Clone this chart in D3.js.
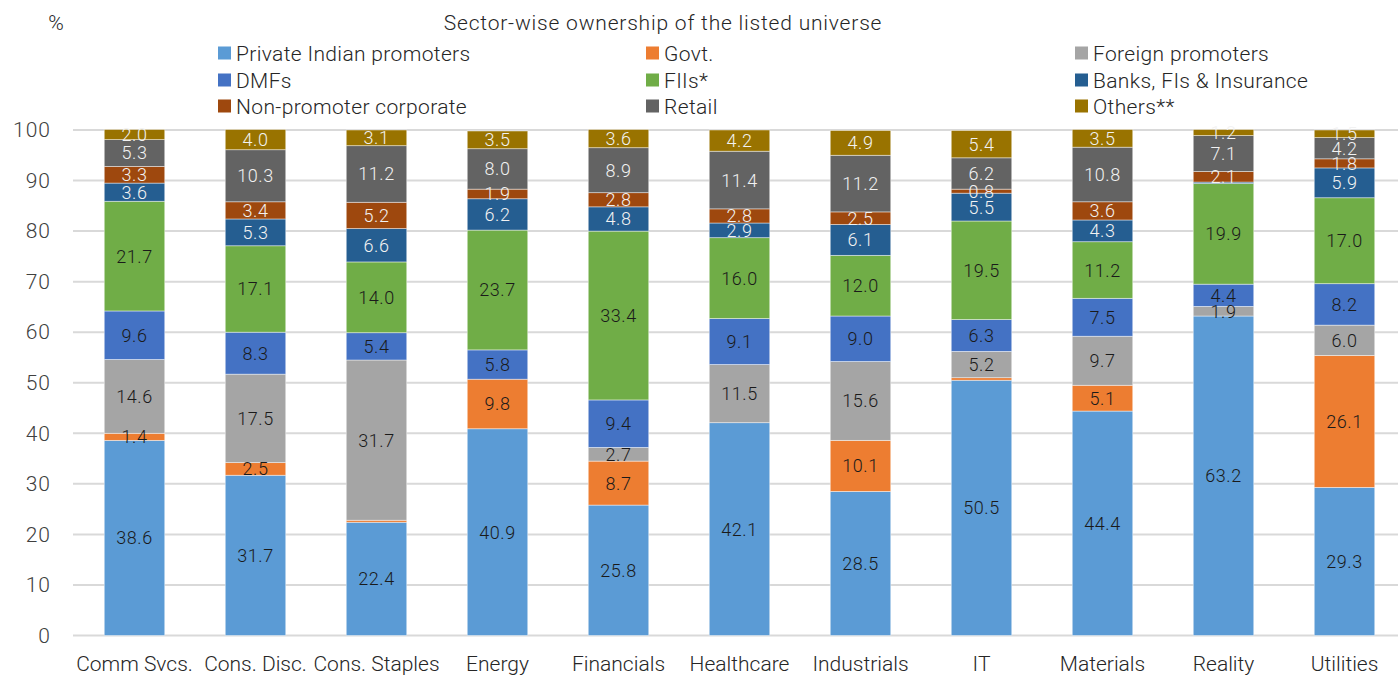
<!DOCTYPE html>
<html>
<head>
<meta charset="utf-8">
<script src="https://cdn.jsdelivr.net/npm/d3@7/dist/d3.min.js"></script>
<style>
  html, body { margin: 0; padding: 0; background: #fff; }
  svg { display: block; font-family: Roboto, "Noto Sans", sans-serif; }
</style>
</head>
<body>
<svg id="chart" width="1398" height="675"></svg>
<script>
// Sectors on the x axis
const categories = ["Comm Svcs.", "Cons. Disc.", "Cons. Staples", "Energy", "Financials",
  "Healthcare", "Industrials", "IT", "Materials", "Reality", "Utilities"];

// Ownership share (%) by holder type, stacked bottom to top
const privateIndianPromoters = [38.6, 31.7, 22.4, 40.9, 25.8, 42.1, 28.5, 50.5, 44.4, 63.2, 29.3];
const govt                   = [1.4, 2.5, 0.4, 9.8, 8.7, 0.0, 10.1, 0.5, 5.1, 0.0, 26.1];
const foreignPromoters       = [14.6, 17.5, 31.7, 0.0, 2.7, 11.5, 15.6, 5.2, 9.7, 1.9, 6.0];
const dmfs                   = [9.6, 8.3, 5.4, 5.8, 9.4, 9.1, 9.0, 6.3, 7.5, 4.4, 8.2];
const fiis                   = [21.7, 17.1, 14.0, 23.7, 33.4, 16.0, 12.0, 19.5, 11.2, 19.9, 17.0];
const banksFIsInsurance      = [3.6, 5.3, 6.6, 6.2, 4.8, 2.9, 6.1, 5.5, 4.3, 0.3, 5.9];
const nonPromoterCorporate   = [3.3, 3.4, 5.2, 1.9, 2.8, 2.8, 2.5, 0.8, 3.6, 2.1, 1.8];
const retail                 = [5.3, 10.3, 11.2, 8.0, 8.9, 11.4, 11.2, 6.2, 10.8, 7.1, 4.2];
const others                 = [2.0, 4.0, 3.1, 3.5, 3.6, 4.2, 4.9, 5.4, 3.5, 1.2, 1.5];

const seriesNames = ["Private Indian promoters", "Govt.", "Foreign promoters", "DMFs", "FIIs*",
  "Banks, FIs & Insurance", "Non-promoter corporate", "Retail", "Others**"];
const seriesValues = [privateIndianPromoters, govt, foreignPromoters, dmfs, fiis,
  banksFIsInsurance, nonPromoterCorporate, retail, others];
const seriesColors = ["#5b9bd5", "#ed7d31", "#a5a5a5", "#4472c4", "#70ad47",
  "#255e91", "#9e480e", "#636363", "#997300"];
const labelColors = ["#1a1a1a", "#1a1a1a", "#1a1a1a", "#1a1a1a", "#1a1a1a",
  "#f2f2f2", "#f2f2f2", "#f2f2f2", "#f2f2f2"];
const yTicks = [0, 10, 20, 30, 40, 50, 60, 70, 80, 90, 100];

// Rows for d3.stack
const rows = categories.map((c, i) => {
  const r = { category: c };
  seriesNames.forEach((s, k) => { r[s] = seriesValues[k][i]; });
  return r;
});
const stacked = d3.stack().keys(seriesNames)(rows);

const svg = d3.select("#chart");

const x = d3.scaleBand().domain(categories).range([74, 1405])
  .paddingInner(0.5).paddingOuter(0.25);
const y = d3.scaleLinear().domain([0, 100]).range([635.5, 130]);

// Gridlines
svg.append("g")
  .selectAll("line")
  .data(yTicks)
  .join("line")
  .attr("x1", 73).attr("x2", 1398)
  .attr("y1", d => y(d)).attr("y2", d => y(d))
  .attr("stroke", "#d9d9d9").attr("stroke-width", 2);

// Y axis labels
const yAxis = svg.append("g")
  .attr("transform", "translate(51,0)")
  .call(d3.axisLeft(y).tickValues(yTicks).tickSize(0).tickPadding(0));
yAxis.select(".domain").remove();
yAxis.selectAll("text")
  .attr("font-size", 21).attr("fill", "#404040")
  .attr("font-family", "Roboto, sans-serif")
  .attr("font-weight", 300)
  .attr("letter-spacing", 1);

// X axis labels
const xAxis = svg.append("g")
  .attr("transform", "translate(0,656)")
  .call(d3.axisBottom(x).tickSize(0).tickPadding(0));
xAxis.select(".domain").remove();
xAxis.selectAll("text")
  .attr("font-size", 21).attr("fill", "#262626")
  .attr("font-family", "Roboto, sans-serif")
  .attr("font-weight", 300)
  .attr("dy", "0.72em");

// Stacked bars
const layers = svg.append("g").selectAll("g")
  .data(stacked)
  .join("g")
  .attr("fill", (d, i) => seriesColors[i]);

layers.selectAll("rect")
  .data(d => d)
  .join("rect")
  .attr("x", d => x(d.data.category))
  .attr("width", x.bandwidth())
  .attr("y", d => y(d[1]))
  .attr("height", d => Math.max(0, y(d[0]) - y(d[1])))
  .attr("stroke", "rgba(255,255,255,0.55)")
  .attr("stroke-width", 0.8);

// Value labels
const labelGroup = svg.append("g");
stacked.forEach((layer, k) => {
  labelGroup.selectAll(null)
    .data(layer.filter(d => (d[1] - d[0]) >= 0.7))
    .join("text")
    .attr("x", d => x(d.data.category) + x.bandwidth() / 2)
    .attr("y", d => y((d[0] + d[1]) / 2))
    .attr("dy", "0.36em")
    .attr("text-anchor", "middle")
    .attr("font-size", 18)
    .attr("font-weight", 300)
    .attr("letter-spacing", 0.5)
    .attr("fill", labelColors[k])
    .text(d => (d[1] - d[0]).toFixed(1));
});

// Title and unit
svg.append("text")
  .attr("x", 663).attr("y", 30)
  .attr("text-anchor", "middle")
  .attr("font-size", 21).attr("font-weight", 300)
  .attr("letter-spacing", 0.8).attr("fill", "#262626")
  .text("Sector-wise ownership of the listed universe");
svg.append("text")
  .attr("x", 56).attr("y", 30)
  .attr("text-anchor", "middle")
  .attr("font-size", 21).attr("font-weight", 300).attr("fill", "#262626")
  .text("%");

// Legend: three columns, three rows
const legendCols = [218, 646, 1075];
const legendRows = [53, 80, 106];
const legend = svg.append("g").selectAll("g")
  .data(seriesNames)
  .join("g")
  .attr("transform", (d, i) => `translate(${legendCols[i % 3]},${legendRows[Math.floor(i / 3)]})`);
legend.append("rect")
  .attr("x", 0).attr("y", -6.5).attr("width", 13).attr("height", 13)
  .attr("fill", (d, i) => seriesColors[i]);
legend.append("text")
  .attr("x", 18).attr("y", 0).attr("dy", "0.36em")
  .attr("font-size", 21).attr("font-weight", 300)
  .attr("letter-spacing", 0.35).attr("fill", "#262626")
  .text(d => d);
</script>
</body>
</html>
